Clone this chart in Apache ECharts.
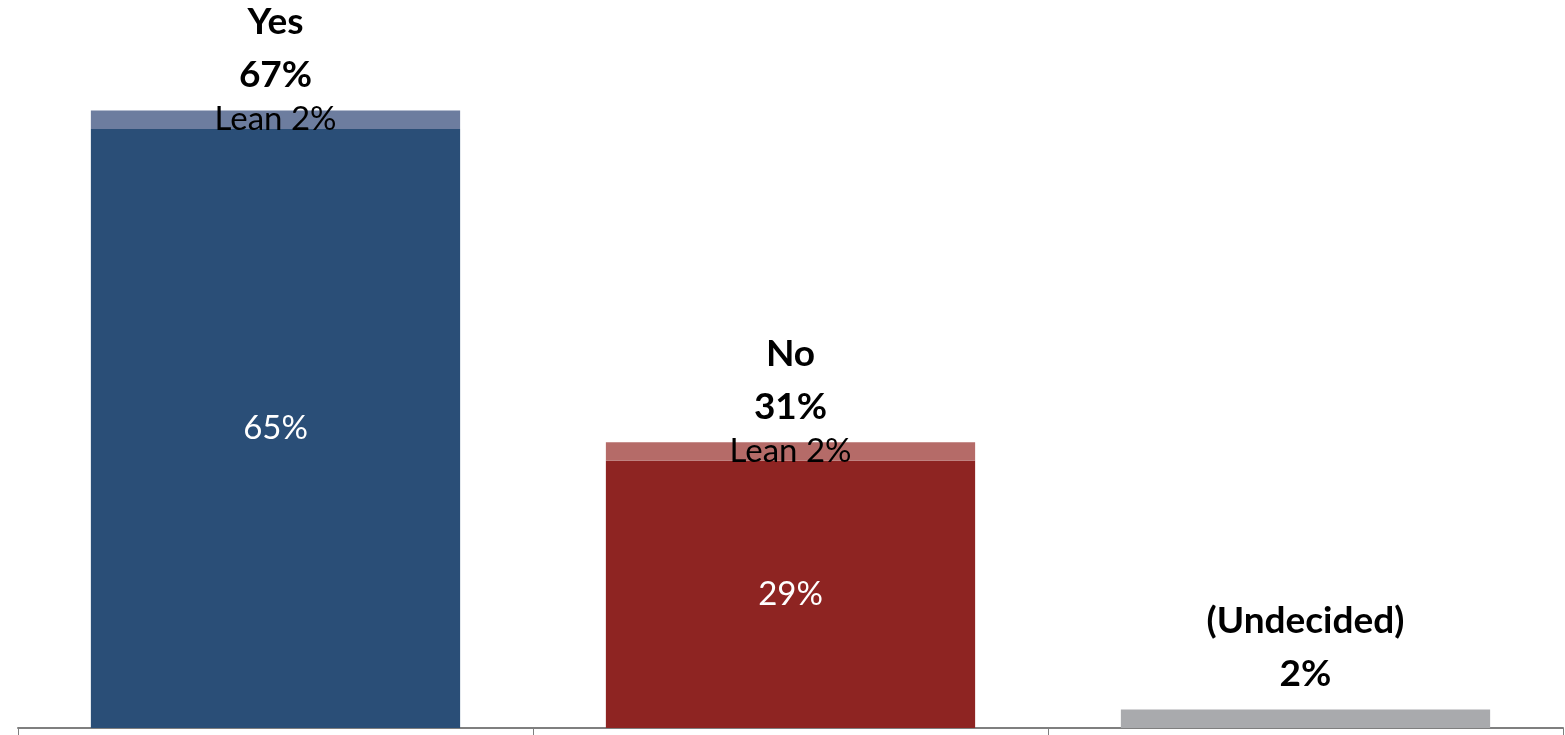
<!DOCTYPE html>
<html>
<head>
<meta charset="utf-8">
<script src="https://cdn.jsdelivr.net/npm/echarts@6/dist/echarts.min.js"></script>
<style>
  html, body { margin: 0; padding: 0; background: #ffffff; }
  #chart { width: 1565px; height: 735px; }
</style>
</head>
<body>
<div id="chart"></div>
<script>
// Answer categories
const categories = ['Yes', 'No', '(Undecided)'];
// Firm share of each answer (%)
const firmValues = [65, 29, 2];
// Leaning share stacked on top (%)
const leanValues = [2, 2, 0];

const firmColors = ['#2A4E77', '#8E2422', '#A9AAAD'];
const leanColors = ['#6D7D9F', '#B56B68', '#A9AAAD'];

const FONT = 'Lato, "Open Sans", sans-serif';

const totals = firmValues.map((v, i) => v + leanValues[i]);

// Headline above each bar: answer name and total share
const topLabel = (i) => ({
  show: true,
  position: 'top',
  distance: 9,
  formatter: categories[i] + '\n' + totals[i] + '%',
  color: '#000',
  fontFamily: FONT,
  fontWeight: 'bold',
  fontSize: 37,
  lineHeight: 53
});

const firmData = firmValues.map((v, i) => ({
  value: v,
  itemStyle: { color: firmColors[i] },
  label: leanValues[i] > 0
    ? { show: true, position: 'inside', formatter: v + '%', color: '#fff', fontFamily: FONT, fontSize: 33 }
    : topLabel(i)
}));

const leanInsideData = leanValues.map((v, i) => ({
  value: v,
  itemStyle: { color: leanColors[i] },
  label: v > 0
    ? { show: true, position: 'inside', formatter: 'Lean ' + v + '%', color: '#000', fontFamily: FONT, fontSize: 33 }
    : { show: false }
}));

// Zero-height bar stacked on top of the lean segment, carrying the headline
const headlineData = leanValues.map((v, i) => ({
  value: 0,
  itemStyle: { color: 'transparent' },
  label: v > 0 ? topLabel(i) : { show: false }
}));

const chart = echarts.init(document.getElementById('chart'), null, { renderer: 'canvas' });
chart.setOption({
  animation: false,
  backgroundColor: '#ffffff',
  grid: { left: 18, right: 2, top: 0, bottom: 7, containLabel: false },
  xAxis: {
    type: 'category',
    data: categories,
    boundaryGap: true,
    axisLine: { show: true, lineStyle: { color: '#7F7F7F', width: 2 } },
    axisTick: { show: true, length: 7, lineStyle: { color: '#7F7F7F', width: 1 } },
    axisLabel: { show: false }
  },
  yAxis: {
    type: 'value',
    min: 0,
    max: 79,
    show: false,
    splitLine: { show: false }
  },
  series: [
    {
      name: 'Firm',
      type: 'bar',
      stack: 'total',
      barCategoryGap: '28.3%',
      data: firmData
    },
    {
      name: 'Lean',
      type: 'bar',
      stack: 'total',
      data: leanInsideData
    },
    {
      name: 'Headline',
      type: 'bar',
      stack: 'total',
      silent: true,
      data: headlineData
    }
  ]
});
</script>
</body>
</html>
